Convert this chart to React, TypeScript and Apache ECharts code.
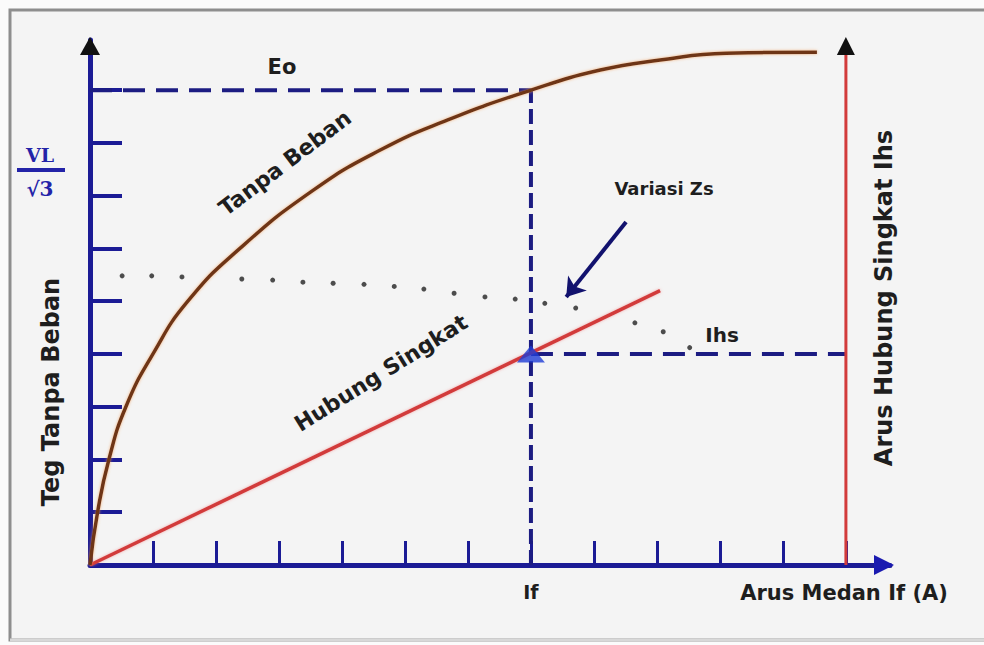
import React, { useEffect, useRef } from "react";
import * as echarts from "echarts";

// ---- data ----
const xTickValues = [1, 2, 3, 4, 5, 6, 7, 8, 9, 10, 11, 12];
const yTickValues = [1, 2, 3, 4, 5, 6, 7, 8, 9];
const xLabelValues = [7];
const xLabelText = ["If"];

const IF_VALUE = 7;
const EO_VALUE = 9;
const IHS_VALUE = 4;
const IHS_AXIS_X = 12;

// open-circuit (no load) curve "Tanpa Beban"
const noLoadX = [0, 0.12, 0.3, 0.57, 1.0, 1.54, 2.38, 3.54, 4.6, 5.67, 7.0, 8.1, 9.05, 10.1, 11.54];
const noLoadY = [0, 1.0, 2.0, 3.0, 4.0, 4.98, 6.0, 7.1, 7.86, 8.43, 9.0, 9.38, 9.57, 9.7, 9.72];

// short-circuit line "Hubung Singkat"
const shortX = [0, 9.05];
const shortY = [0, 5.2];

// dotted "Variasi Zs" points
const dotsX = [0.51, 0.98, 1.46, 2.41, 2.9, 3.38, 3.86, 4.35, 4.83, 5.3, 5.78, 6.27, 6.75, 7.22, 7.71, 8.65, 9.1, 9.52];
const dotsY = [5.48, 5.48, 5.46, 5.42, 5.4, 5.36, 5.34, 5.32, 5.28, 5.23, 5.15, 5.08, 5.04, 4.96, 4.87, 4.59, 4.42, 4.12];

// annotation arrow for "Variasi Zs"
const arrowFrom = [8.51, 6.5];
const arrowTo = [7.56, 5.08];

const X_MAX = 12.7;
const Y_MAX = 9.95;

const NAVY = "#1b1b95";
const DASH = "#1c1c82";
const RED = "#d23b3b";
const BROWN = "#6e3519";
const TXT = "#1e1e1e";
const FONT = "DejaVu Sans";

const zip = (xs: number[], ys: number[]) => xs.map((x, i) => [x, ys[i]]);

export default function App() {
  const ref = useRef<HTMLDivElement>(null);

  useEffect(() => {
    if (!ref.current) return;
    const chart = echarts.init(ref.current, null, { renderer: "svg" });

    const option: any = {
      animation: false,
      backgroundColor: "#fbfbfb",
      grid: { left: 90, top: 40, right: 94, bottom: 80 },
      xAxis: {
        type: "value",
        min: 0,
        max: X_MAX,
        splitLine: { show: false },
        axisLine: { show: true, lineStyle: { color: NAVY, width: 5 } },
        axisTick: {
          show: true,
          inside: true,
          length: 24,
          customValues: xTickValues,
          lineStyle: { color: NAVY, width: 3 },
        },
        axisLabel: {
          show: true,
          customValues: xLabelValues,
          formatter: (v: number) => {
            const i = xLabelValues.indexOf(v);
            return i >= 0 ? xLabelText[i] : "";
          },
          margin: 17,
          color: TXT,
          fontFamily: FONT,
          fontWeight: "bold",
          fontSize: 19,
        },
      },
      yAxis: {
        type: "value",
        min: 0,
        max: Y_MAX,
        splitLine: { show: false },
        axisLine: { show: true, lineStyle: { color: NAVY, width: 5 } },
        axisTick: {
          show: true,
          inside: true,
          length: 32,
          customValues: yTickValues,
          lineStyle: { color: NAVY, width: 4 },
        },
        axisLabel: { show: false },
      },
      series: [
        {
          name: "Eo",
          type: "line",
          data: [[0, EO_VALUE], [IF_VALUE, EO_VALUE]],
          symbol: "none",
          lineStyle: { color: DASH, width: 4, type: [22, 11] },
          z: 3,
        },
        {
          name: "If",
          type: "line",
          data: [[IF_VALUE, 0], [IF_VALUE, EO_VALUE]],
          symbol: "none",
          lineStyle: { color: DASH, width: 4, type: [15, 6] },
          z: 3,
        },
        {
          name: "Ihs",
          type: "line",
          data: [[IF_VALUE, IHS_VALUE], [IHS_AXIS_X, IHS_VALUE]],
          symbol: "none",
          lineStyle: { color: DASH, width: 4, type: [22, 11] },
          z: 3,
        },
        {
          name: "Ihs axis",
          type: "line",
          data: [[IHS_AXIS_X, 0], [IHS_AXIS_X, Y_MAX - 0.25]],
          symbol: "none",
          lineStyle: { color: RED, width: 3 },
          z: 4,
        },
        {
          name: "Variasi Zs",
          type: "scatter",
          data: zip(dotsX, dotsY),
          symbol: "circle",
          symbolSize: 5,
          itemStyle: { color: "#222" },
          z: 4,
        },
        {
          name: "Hubung Singkat",
          type: "line",
          data: zip(shortX, shortY),
          symbol: "none",
          lineStyle: {
            color: RED,
            width: 3.5,
            shadowColor: "rgba(240,120,120,0.6)",
            shadowBlur: 3,
          },
          z: 5,
        },
        {
          name: "Tanpa Beban",
          type: "line",
          data: zip(noLoadX, noLoadY),
          smooth: 0.5,
          symbol: "none",
          lineStyle: {
            color: BROWN,
            width: 3.5,
            shadowColor: "rgba(240,150,80,0.7)",
            shadowBlur: 3,
          },
          z: 5,
        },
        {
          name: "Zs arrow",
          type: "lines",
          coordinateSystem: "cartesian2d",
          data: [{ coords: [arrowFrom, arrowTo] }],
          symbol: ["none", "arrow"],
          symbolSize: 18,
          lineStyle: { color: "#12126e", width: 4, opacity: 1, curveness: 0 },
          z: 6,
        },
        {
          name: "operating point",
          type: "scatter",
          data: [[IF_VALUE, IHS_VALUE]],
          symbol: "triangle",
          symbolSize: [28, 17],
          itemStyle: { color: "#1e3cd6" },
          z: 7,
        },
      ],
    };
    chart.setOption(option);

    const px = (x: number, y: number) => chart.convertToPixel({ gridIndex: 0 }, [x, y]) as number[];
    const yTop = px(0, Y_MAX);
    const xEnd = px(X_MAX, 0);
    const redTop = px(IHS_AXIS_X, Y_MAX);

    const text = (t: string, x: number, y: number, size: number, rot = 0, extra: any = {}) => ({
      type: "text",
      x,
      y,
      rotation: (rot * Math.PI) / 180,
      z: 20,
      style: {
        text: t,
        fill: TXT,
        font: `bold ${size}px "${FONT}"`,
        align: "center",
        verticalAlign: "middle",
        ...extra,
      },
    });

    chart.setOption({
      graphic: [
        {
          type: "rect",
          z: -10,
          silent: true,
          shape: { x: 10, y: 10, width: 990, height: 630 },
          style: { fill: "#f4f4f4", stroke: "#8e8e8e", lineWidth: 3 },
        },
        {
          type: "line",
          z: -9,
          shape: { x1: 10, y1: 640, x2: 990, y2: 640 },
          style: { stroke: "#d8d8d8", lineWidth: 3 },
        },
        // axis arrows
        {
          type: "polygon",
          z: 20,
          shape: { points: [[yTop[0], yTop[1] - 3], [yTop[0] - 10, yTop[1] + 15], [yTop[0] + 10, yTop[1] + 15]] },
          style: { fill: "#111" },
        },
        {
          type: "polygon",
          z: 20,
          shape: { points: [[xEnd[0] + 4, xEnd[1]], [xEnd[0] - 16, xEnd[1] - 10], [xEnd[0] - 16, xEnd[1] + 10]] },
          style: { fill: "#1a1ab0" },
        },
        {
          type: "polygon",
          z: 20,
          shape: { points: [[redTop[0], redTop[1] - 3], [redTop[0] - 9, redTop[1] + 15], [redTop[0] + 9, redTop[1] + 15]] },
          style: { fill: "#111" },
        },
        // V_L / sqrt(3)
        text("VL", 40, 155, 19, 0, { fill: "#2323a8", font: 'bold 19px "DejaVu Serif"' }),
        {
          type: "line",
          z: 20,
          shape: { x1: 17, y1: 170, x2: 65, y2: 170 },
          style: { stroke: "#2323a8", lineWidth: 4 },
        },
        text("\u221A3", 40, 189, 20, 0, { fill: "#2323a8", font: 'bold 20px "DejaVu Serif"' }),
        // labels
        text("Eo", 282, 67, 21),
        text("Tanpa Beban", 285, 163, 22, 37),
        text("Hubung Singkat", 381, 373, 22, 32),
        text("Variasi Zs", 664, 188, 18),
        text("Ihs", 722, 335, 20),
        text("Arus Medan If (A)", 844, 593, 21),
        text("Teg Tanpa Beban", 51, 392, 24, 90),
        text("Arus Hubung Singkat Ihs", 884, 298, 24, 90),
      ],
    });

    return () => chart.dispose();
  }, []);

  return (
    <div
      ref={ref}
      style={{ position: "fixed", left: 0, top: 0, width: 984, height: 645 }}
    />
  );
}
